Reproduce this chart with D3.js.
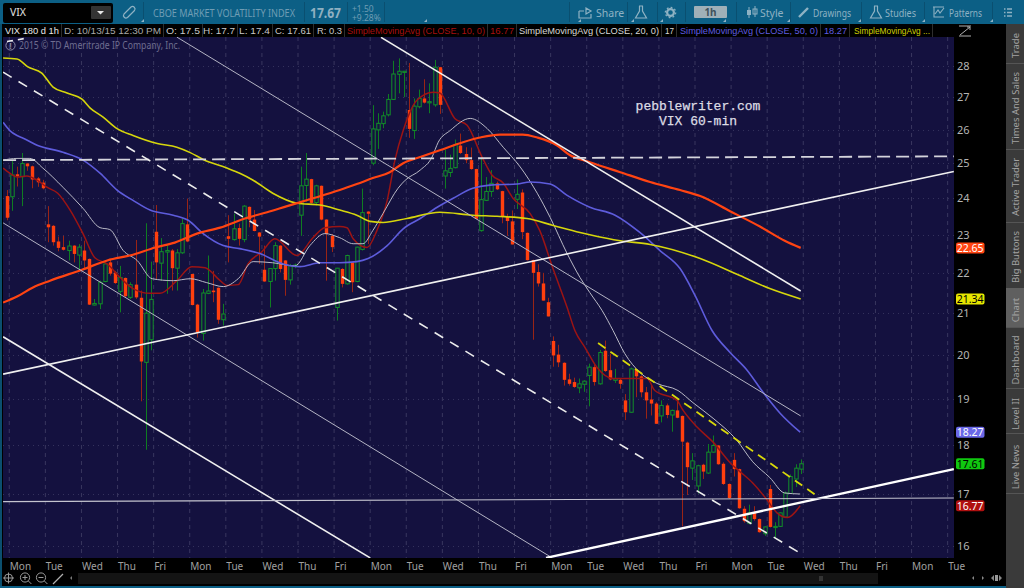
<!DOCTYPE html>
<html><head><meta charset="utf-8">
<style>
html,body{margin:0;padding:0;background:#000;overflow:hidden}
svg{display:block}
text{font-family:"Noto Sans",sans-serif}
</style>
<script src="https://cdn.jsdelivr.net/npm/d3@7/dist/d3.min.js"></script>
</head><body><svg id="c" width="1024" height="588"></svg>
<script>
// Hourly VIX bars: open, high, low, close
const candles = [
[24.06,24.23,23.39,23.46],[24.04,25.09,23.65,24.66],[24.68,24.9,24.33,24.62],[24.61,25.3,23.78,24.99],[24.99,25.0,24.78,24.91],
[24.91,24.93,24.28,24.53],[24.56,24.6,24.32,24.45],[24.44,24.52,24.25,24.28],[23.28,23.78,22.8,23.2],[23.24,23.26,22.71,22.8],
[22.82,22.95,22.56,22.65],[22.67,22.97,22.58,22.6],[22.58,22.84,22.32,22.7],[22.71,22.72,22.27,22.49],[22.46,22.75,22.05,22.67],
[22.58,22.84,22.1,22.32],[22.36,22.37,21.19,21.2],[21.19,21.34,21.18,21.23],[21.22,21.8,21.09,21.76],[21.78,22.27,21.76,22.23],
[22.27,22.36,21.93,21.98],[22.01,22.05,21.72,21.74],[21.53,22.18,21.01,21.88],[21.87,21.88,21.38,21.41],[21.38,21.76,21.34,21.7],
[21.7,22.86,21.34,21.38],[21.37,21.55,18.94,19.84],[19.82,23.31,17.9,20.99],[20.35,22.29,20.1,21.33],[23.08,23.81,21.84,22.27],
[22.25,22.91,21.8,22.55],[22.54,22.71,21.47,22.58],[22.58,22.62,21.55,22.12],[22.12,22.62,21.55,22.52],[22.52,23.44,22.49,23.3],
[23.28,23.99,22.8,22.82],[21.97,21.98,21.18,21.19],[21.2,21.22,20.4,20.52],[20.5,21.59,20.33,21.49],[21.48,22.45,21.46,21.54],
[21.55,22.05,21.26,21.51],[21.62,21.63,20.73,20.83],[20.83,21.22,20.69,20.97],[22.96,23.53,22.27,22.89],[22.87,23.57,22.84,23.16],
[23.18,23.3,22.71,22.89],[22.87,23.81,22.8,23.78],[23.76,23.77,23.2,23.41],[23.41,23.67,23.09,23.1],[23.06,23.07,22.23,22.95],
[22.08,22.71,21.77,21.78],[21.78,22.12,21.13,22.11],[22.11,22.8,21.8,22.71],[22.71,22.72,22.01,22.1],[22.32,22.33,21.42,21.82],
[21.82,22.23,21.7,22.18],[22.16,22.24,22.12,22.2],[23.53,24.9,22.97,24.35],[24.36,25.3,23.9,24.54],[24.54,24.55,23.85,23.87],
[23.88,24.38,23.8,24.35],[24.35,24.36,23.39,23.41],[23.41,23.42,21.8,23.02],[22.97,23.02,22.54,22.67],[21.13,22.13,20.81,22.12],
[22.1,22.12,21.63,21.72],[21.72,22.47,21.7,22.45],[22.27,22.28,21.51,21.76],[21.78,22.68,21.76,22.67],[22.61,24.27,22.58,23.6],
[23.63,23.64,22.75,23.57],[25.0,26.75,24.94,26.02],[25.99,26.5,25.42,26.19],[26.18,26.55,26.04,26.42],[26.45,27.1,26.4,26.93],
[26.93,28.17,26.91,27.74],[27.73,28.25,27.12,27.83],[27.81,27.84,27.0,27.83],[26.6,28.1,25.75,26.02],[25.97,26.96,25.72,26.72],
[26.7,27.24,26.65,26.96],[26.96,27.57,26.8,26.83],[26.83,27.44,26.5,26.86],[26.76,28.2,26.7,27.96],[27.96,27.97,26.48,26.76],
[24.63,25.4,24.27,24.78],[24.73,25.25,24.6,24.85],[24.87,25.7,24.85,25.55],[25.52,25.88,25.27,25.3],[25.27,25.47,25.0,25.09],
[25.09,25.46,24.81,24.83],[24.83,24.84,23.42,23.43],[23.11,25.18,23.08,23.96],[23.94,24.6,23.92,24.19],[24.19,24.8,24.04,24.42],
[24.42,24.47,24.23,24.25],[24.2,24.21,23.31,23.48],[23.48,23.57,22.97,23.37],[23.36,23.66,22.74,22.74],[23.97,24.53,23.7,24.11],
[24.16,24.25,22.88,23.07],[23.05,23.06,22.32,22.33],[22.33,22.34,20.35,22.0],[22.02,22.22,21.65,21.73],[21.73,22.0,21.3,21.3],
[21.26,21.37,20.91,20.91],[20.32,20.43,19.72,19.98],[20.0,20.23,19.71,19.82],[19.81,19.82,19.29,19.42],[19.43,19.56,19.29,19.33],
[19.37,19.47,19.24,19.26],[19.24,19.45,19.12,19.33],[19.32,19.41,19.15,19.39],[19.52,19.79,18.83,19.71],[19.71,19.79,19.29,19.37],
[19.33,20.11,19.31,20.05],[20.09,20.33,19.6,19.62],[19.64,20.02,19.41,19.43],[19.41,19.67,19.35,19.45],[19.42,19.45,19.22,19.33],
[18.96,19.1,18.53,18.7],[18.7,19.7,18.69,19.67],[19.65,19.66,19.03,19.5],[19.5,19.52,19.03,19.14],[19.14,19.26,18.56,18.96],
[18.98,19.33,18.63,18.89],[18.89,18.92,18.45,18.45],[18.62,18.96,18.48,18.85],[18.85,18.89,18.57,18.64],[18.64,18.76,18.28,18.74],
[18.74,19.0,18.57,18.58],[18.62,18.63,16.37,18.07],[18.05,18.07,16.98,17.54],[17.52,17.83,17.28,17.67],[17.16,17.59,17.01,17.57],
[17.59,17.61,17.3,17.45],[17.42,18.02,17.4,17.85],[17.85,18.2,17.84,17.99],[17.99,18.0,17.59,17.6],[17.61,17.64,17.18,17.2],
[17.2,17.21,16.9,16.92],[17.69,17.83,17.35,17.5],[17.5,17.51,16.71,16.72],[16.71,16.76,16.44,16.47],[16.43,16.79,16.41,16.63],
[16.64,16.76,16.48,16.51],[16.51,16.52,16.25,16.26],[16.23,16.37,16.19,16.36],[17.1,17.18,16.35,16.36],[16.36,16.45,16.15,16.37],
[16.37,16.64,16.36,16.63],[16.55,17.05,16.53,17.02],[17.01,17.39,17.0,17.35],[17.3,17.6,17.14,17.52],[17.5,17.7,17.4,17.61]
];

// Moving averages, as [bar, value] vertices
const sma10 = [[-0.7,24.86],[0.6,24.71],[2,24.6],[3.9,24.63],[5.9,24.51],[7.8,24.31],[9.9,24.14],[12.3,23.67],[14.8,23.03],[17.1,22.39],[19.5,22.23],[22,21.88],[24.5,21.6],[27.8,21.48],[29.7,21.48],[33,21.8],[35.9,22.16],[38.5,22.13],[41.4,21.8],[42.7,21.68],[44.9,21.7],[46.8,22.23],[49.5,22.55],[52,22.89],[56.3,22.45],[59.4,22.92],[61.7,23.19],[64.6,23.22],[66,23.19],[67.2,22.89],[69.9,22.66],[71.8,23.11],[73.8,23.94],[75.3,25.09],[76.9,25.97],[79.6,26.91],[82.7,27.16],[84,27.13],[86.9,26.34],[89.3,26.13],[92.2,25.18],[94.1,24.66],[96.3,24.43],[98.2,24],[101.5,23.58],[103.4,23.11],[105.9,22.13],[108.7,21.13],[110.2,20.57],[112.2,20.16],[114.5,19.7],[117.6,19.45],[120.3,19.45],[124.2,19.45],[125.7,19.18],[130,18.96],[131.2,18.74],[133.9,18.38],[137,18.06],[140.7,17.59],[142.2,17.45],[144.7,17.22],[147.5,16.88],[149.4,16.63],[151.4,16.54],[153.9,16.77]];
const sma20 = [[-0.7,25.09],[2,25.14],[4.5,25.14],[7,24.86],[10.9,24.31],[14.8,23.72],[18.1,23.19],[20,23.14],[22.6,22.58],[25.3,22.32],[28.2,21.85],[32.3,21.8],[35.6,21.85],[38.8,21.75],[42,21.65],[44.9,21.85],[47.8,22.29],[51.6,22.26],[55.9,22.18],[58.8,22.71],[61.7,23.03],[64.6,22.92],[67.2,22.76],[69.1,22.76],[71,23.11],[73,23.58],[75.9,24.28],[77.3,24.51],[80.2,24.8],[82.5,25.18],[83.7,25.62],[86,25.97],[89.9,26.34],[93.2,26.03],[96.3,25.47],[99.6,24.89],[102.9,24.14],[105.4,23.47],[108.7,22.5],[111.2,21.88],[113.1,21.5],[115.5,21.05],[117.6,20.57],[119.9,20.02],[122.8,19.59],[126.1,19.34],[130.2,19.18],[133.1,18.91],[137,18.57],[141.6,18.1],[144.7,17.65],[148,17.33],[150.9,17.02],[153.9,17]];
const sma50 = [[-0.7,26.22],[0.6,25.97],[2,25.82],[3.2,25.74],[5.9,25.53],[10.9,25.32],[14.8,25.09],[18.1,24.71],[21.4,24.23],[24.5,23.94],[27.8,23.67],[32.3,23.53],[35.2,23.39],[38.1,23.03],[42,22.71],[45.2,22.63],[49.1,22.5],[53.6,22.23],[56.9,22.16],[60.8,22.26],[64.6,22.26],[67.9,22.29],[70.1,22.37],[73.8,22.71],[76.9,23.16],[80.2,23.44],[83.5,23.75],[86.6,24],[90.4,24.28],[93.7,24.37],[99,24.4],[101.5,24.46],[105.4,24.4],[108.7,24.08],[113.1,23.75],[118,23.53],[122.8,23.06],[126.7,22.58],[130.6,22.11],[133.5,21.43],[136.8,20.57],[140.3,20.05],[143.6,19.64],[146.7,19.14],[150,18.68],[153.9,18.27]];
const sma100 = [[-0.7,21.25],[2,21.4],[5.1,21.63],[8.4,21.8],[14.6,22.08],[19.5,22.32],[24.5,22.47],[28.8,22.66],[32.6,22.79],[36.9,23.03],[41.4,23.19],[46.2,23.44],[50.5,23.61],[54.4,23.78],[58.8,23.97],[64.6,24.23],[67.9,24.4],[71,24.57],[74.3,24.74],[76.9,25],[80.2,25.18],[84,25.38],[88.5,25.62],[91.8,25.76],[95.7,25.85],[100.1,25.85],[102.9,25.76],[106.7,25.53],[109.2,25.24],[113.1,25.03],[119,24.74],[124.8,24.46],[130.6,24.23],[134.5,24.06],[140.3,23.64],[146.1,23.22],[150.9,22.84],[154,22.65]];
const sma200 = [[-0.7,28.26],[2,28.23],[4.1,27.97],[6.8,27.77],[9,27.32],[11.7,27.13],[14.6,26.94],[16.2,26.66],[18.7,26.38],[21.4,26.03],[24.5,25.82],[29.2,25.58],[33,25.47],[35.6,25.31],[38.1,25.11],[42.7,24.86],[45.2,24.71],[47.8,24.51],[51.6,24.14],[56.3,23.86],[60.8,23.81],[64.6,23.67],[67.9,23.53],[70.5,23.36],[73,23.33],[77.6,23.44],[84,23.61],[90.4,23.53],[95.1,23.5],[100.9,23.44],[106,23.25],[111.2,23.06],[113.1,23],[119,22.84],[124.8,22.74],[134.5,22.37],[142.2,21.93],[148,21.6],[154,21.34]];

// Hand-drawn channel and trend lines: [bar, price] at each end
const thinLines = [[[33,28.96],[154,18.62]],[[-0.7,23.32],[105.8,15.78]]];
const thickLines = [[[72.6,28.95],[154,21.54]],[[-0.7,20.42],[70.5,15.78]],[[-0.7,19.55],[183.7,24.76]]];
const heavyLines = [[[104.6,15.78],[183.7,17.5]]];
const levelLine = [[-0.7,16.85],[183.7,16.92]];
const dashedLevel = [[-0.7,25.09],[183.7,25.2]];
const dashedChannel = [[-0.7,27.8],[154.2,15.85]];
const dashedTop = [[0.06,28.81],[3.4,28.91]];
const wedgeLine = [[114.7,20.27],[157.2,16.96]];

const priceTicks = [16,17,18,19,20,21,22,23,24,25,26,27,28];
const dayLabels = ["Mon","Tue","Wed","Thu","Fri","Mon","Tue","Wed","Thu","Fri","Mon","Tue","Wed","Thu","Fri","Mon","Tue","Wed","Thu","Fri","Mon","Tue","Wed","Thu","Fri","Mon","Tue"];
const barsPerDay = 7;
const priceBadges = [
  {v:22.65,bg:"#ff4512",fg:"#fff"},{v:21.34,bg:"#e6e600",fg:"#000"},{v:18.27,bg:"#6a68e8",fg:"#fff"},
  {v:17.61,bg:"#10c810",fg:"#000"},{v:16.77,bg:"#b01010",fg:"#fff"}];
const readouts = [
  ["VIX 180 d 1h",5,54,"#e8e8e8"],["D: 10/13/15 12:30 PM",64,97,"#a8a8a8"],["O: 17.5",166,34,"#c8c8c8"],["H: 17.7",203,32,"#c8c8c8"],
  ["L: 17.4",239,31,"#c8c8c8"],["C: 17.61",275,36,"#c8c8c8"],["R: 0.3",317,25,"#c8c8c8"],
  ["SimpleMovingAvg (CLOSE, 10, 0)",347,138,"#a80f0f"],["16.77",490,24,"#a80f0f"],
  ["SimpleMovingAvg (CLOSE, 20, 0)",519,140,"#d8d8d8"],["17",665,9,"#d8d8d8"],
  ["SimpleMovingAvg (CLOSE, 50, 0)",680,138,"#5f5ce0"],["18.27",824,23,"#5f5ce0"],
  ["SimpleMovingAvg ...",854,76,"#d0d000"]];
const tabs = [["Trade",24,63,45.5],["Times And Sales",63,149,108],["Active Trader",149,222,187],["Big Buttons",222,288,257],["Chart",288,327,310],["Dashboard",327,388,360],["Level II",388,433,414],["Live News",433,493,467]];

const svg = d3.select("#c");
const plot = {l:3,t:37,r:954,b:558};
const x = d3.scaleLinear().domain([0,154]).range([6.7,800.7]);
const y = d3.scaleLog().domain([16,28]).range([546,66]);
const line = d3.line().x(d=>x(d[0])).y(d=>y(d[1]));
const smooth = d3.line().x(d=>x(d[0])).y(d=>y(d[1])).curve(d3.curveMonotoneX);

// Window chrome behind the chart
svg.append("rect").attr("width",1024).attr("height",588).attr("fill","#000");
svg.append("rect").attr("x",0).attr("y",24).attr("width",2).attr("height",564).attr("fill","#0b4f6e");
svg.append("rect").attr("width",1024).attr("height",24).attr("fill","#0c5f85");
svg.append("rect").attr("y",586).attr("width",1024).attr("height",2).attr("fill","#0c5f85");
svg.append("rect").attr("x",plot.l).attr("y",plot.t).attr("width",plot.r-plot.l).attr("height",plot.b-plot.t).attr("fill","#14113f");
svg.append("defs").append("clipPath").attr("id","pc").append("rect").attr("x",plot.l).attr("y",plot.t).attr("width",plot.r-plot.l).attr("height",plot.b-plot.t);

// Grid
const dayIdx = dayLabels.map((d,i)=>i*barsPerDay+0.5);
const gridG = svg.append("g").attr("clip-path","url(#pc)");
gridG.selectAll(".v").data(dayIdx).enter().append("line")
  .attr("x1",d=>x(d)).attr("x2",d=>x(d)).attr("y1",plot.t).attr("y2",plot.b)
  .attr("stroke","#39375f").attr("stroke-width",1).attr("stroke-dasharray","4 4");
gridG.selectAll(".h").data(priceTicks).enter().append("line")
  .attr("x1",plot.l).attr("x2",plot.r).attr("y1",d=>Math.round(y(d))+.5).attr("y2",d=>Math.round(y(d))+.5)
  .attr("stroke","#34325c").attr("stroke-width",1).attr("stroke-dasharray","1 4");

const chart = svg.append("g").attr("clip-path","url(#pc)");

// Copyright note
chart.append("circle").attr("cx",10.5).attr("cy",45.5).attr("r",4.6).attr("fill","none").attr("stroke","#8c8ba6").attr("stroke-width",1);
chart.append("text").attr("x",10.5).attr("y",48.8).attr("text-anchor","middle").attr("font-size",8.5).attr("font-weight","bold").attr("fill","#8c8ba6").text("!");
chart.append("text").attr("x",19).attr("y",49).attr("font-size",10).attr("fill","#6f6e90").attr("textLength",161).attr("lengthAdjust","spacingAndGlyphs").text("2015 © TD Ameritrade IP Company, Inc.");

// Candles: filled when down, hollow when up
const up = d=>d[3]>=d[0];
const cg = chart.append("g");
const bw = 3.4;
const cx = i=>Math.round(x(i))+.5;
cg.selectAll(".w").data(candles).enter().append("line")
  .attr("x1",(d,i)=>cx(i)).attr("x2",(d,i)=>cx(i))
  .attr("y1",d=>y(d[1])).attr("y2",d=>y(d[2]))
  .attr("stroke",d=>up(d)?"#0f7d22":"#9a2415").attr("stroke-width",1);
cg.selectAll(".b").data(candles).enter().append("rect")
  .attr("x",(d,i)=>cx(i)-bw/2).attr("width",bw)
  .attr("y",d=>y(Math.max(d[0],d[3])))
  .attr("height",d=>Math.max(1.2,Math.abs(y(d[0])-y(d[3]))))
  .attr("fill",d=>up(d)?"#14113f":"#ff3f0e")
  .attr("stroke",d=>up(d)?"#12912a":"none")
  .attr("stroke-width",d=>up(d)?1:0);

// Averages
const addSma=(data,color,w)=>chart.append("path").attr("d",smooth(data)).attr("fill","none").attr("stroke",color).attr("stroke-width",w).attr("stroke-linejoin","round");
addSma(sma10,"#9c1414",1.5);
addSma(sma20,"#b9b9c6",1);
addSma(sma50,"#5e5cdc",1.6);
addSma(sma200,"#d6d60c",1.6);
addSma(sma100,"#ff4412",2.2);

// Trend lines
const addLine=(data,color,w,dash)=>{const p=chart.append("path").attr("d",line(data)).attr("fill","none").attr("stroke",color).attr("stroke-width",w);if(dash)p.attr("stroke-dasharray",dash);};
thinLines.forEach(l=>addLine(l,"#b4b4c4",1));
thickLines.forEach(l=>addLine(l,"#f0f0f0",1.6));
heavyLines.forEach(l=>addLine(l,"#ffffff",2.4));
addLine(levelLine,"#c4c4cf",1.1);
addLine(dashedLevel,"#d4d4dc",1.8,"13 6");
addLine(dashedChannel,"#ececec",1.6,"10 8");
addLine(dashedTop,"#ececec",1.6,"6 5");
addLine(wedgeLine,"#d8d80a",1.8,"9 6");

// Annotation
[["pebblewriter.com",110],["VIX 60-min",125]].forEach(a=>chart.append("text")
  .attr("x",698).attr("y",a[1]).attr("text-anchor","middle").attr("font-size",13)
  .style("font-family","'Liberation Mono',monospace").attr("stroke","#dcdce4").attr("stroke-width",0.25).attr("fill","#dcdce4").text(a[0]));

// Axes
const yAxis = d3.axisRight(y).tickValues(priceTicks).tickFormat(d3.format("d")).tickSize(0).tickPadding(3);
const yg = svg.append("g").attr("transform",`translate(${plot.r},0)`).call(yAxis);
yg.select(".domain").remove();
yg.selectAll("text").attr("fill","#b4b4b4").attr("font-size",11).style("font-family",'"Noto Sans",sans-serif');
const dayFmt = new Map(dayIdx.map((d,i)=>[d,dayLabels[i]]));
const xAxis = d3.axisBottom(x).tickValues(dayIdx).tickFormat(d=>dayFmt.get(d)).tickSize(0).tickPadding(3);
const xg = svg.append("g").attr("transform",`translate(0,${plot.b})`).call(xAxis);
xg.select(".domain").remove();
xg.selectAll("text").attr("fill","#a0a0a0").attr("font-size",10).attr("text-anchor","start").attr("dy","0.85em").style("font-family",'"Noto Sans",sans-serif');

// Last-value badges
const bg = svg.append("g").selectAll("g").data(priceBadges).enter().append("g").attr("transform",d=>`translate(956,${y(d.v)})`);
bg.append("rect").attr("y",-5.5).attr("width",28.5).attr("height",11).attr("rx",2).attr("fill",d=>d.bg);
bg.append("text").attr("x",14.2).attr("y",4).attr("text-anchor","middle").attr("font-size",10.5).attr("fill",d=>d.fg).text(d=>d.v.toFixed(2));

// Study readout strip
svg.append("rect").attr("x",3).attr("y",24).attr("width",951).attr("height",13).attr("fill","#000");
const rg = svg.append("g");
readouts.forEach(r=>{
  rg.append("text").attr("x",r[1]).attr("y",34).attr("font-size",9.1).style("font-family",'"Liberation Sans",sans-serif').attr("fill",r[3]).attr("textLength",r[2]).attr("lengthAdjust","spacingAndGlyphs").text(r[0]);
  rg.append("line").attr("x1",r[1]+r[2]+2.5).attr("x2",r[1]+r[2]+2.5).attr("y1",24).attr("y2",37).attr("stroke","#2e2e2e");
});
// scale-fit button at the top of the price column
svg.append("path").attr("d","M959 26H971M959 36H971M960 35L970 27M970 27h-3M970 27v3").attr("fill","none").attr("stroke","#b0b0b0");

// Header bar
const hdr = svg.append("g");
hdr.append("rect").attr("x",3).attr("y",3).attr("width",110).attr("height",20).attr("rx",2).attr("fill","#000");
hdr.append("rect").attr("x",91).attr("y",6).attr("width",20).attr("height",13).attr("rx",1).attr("fill","#333");
hdr.append("path").attr("d","M97 11h7l-3.5 3.5z").attr("fill","#e8e8e8");
hdr.append("text").attr("x",10).attr("y",16).attr("font-size",10.5).attr("fill","#e0e0e0").text("VIX");
hdr.selectAll(".sep").data([143,304,347,384,569,627,657,685,736,790,861,924,992]).enter().append("line")
  .attr("x1",d=>d+.5).attr("x2",d=>d+.5).attr("y1",2).attr("y2",22).attr("stroke","#0a4f70");
hdr.append("text").attr("x",153).attr("y",16.5).attr("font-size",10.5).attr("fill","#6f9db4").attr("textLength",142).attr("lengthAdjust","spacingAndGlyphs").text("CBOE MARKET VOLATILITY INDEX");
hdr.append("text").attr("x",310).attr("y",17.5).attr("font-size",13.5).attr("font-weight","bold").attr("fill","#8fb0c1").attr("textLength",31).attr("lengthAdjust","spacingAndGlyphs").text("17.67");
hdr.append("text").attr("x",352).attr("y",11.5).attr("font-size",8.5).attr("fill","#6f9db4").text("+1.50");
hdr.append("text").attr("x",352).attr("y",21).attr("font-size",8.5).attr("fill","#6f9db4").text("+9.28%");
const hc="#8fb2c3";
hdr.append("path").attr("d","M125 16l7-7a2.5 2.5 0 0 1 3.5 3.5l-7 7a2.5 2.5 0 0 1-3.5-3.5z").attr("fill","none").attr("stroke",hc).attr("stroke-width",1.2).attr("transform","translate(-1,-2)");
// Share
hdr.append("path").attr("d","M579 11h5M579 11v7h12v-4M586 8l5 3-5 3z").attr("fill","none").attr("stroke",hc).attr("stroke-width",1.2);
hdr.append("text").attr("x",596).attr("y",16.5).attr("font-size",10.5).attr("fill",hc).text("Share");
// Flask icons
const flask=xx=>hdr.append("path").attr("d",`M${xx-2} 6h4M${xx-1.5} 6v5l-4 7h11l-4-7V6`).attr("fill","none").attr("stroke",hc).attr("stroke-width",1.2);
flask(641);flask(876);
// Gear
hdr.append("circle").attr("cx",670.5).attr("cy",12.5).attr("r",3.4).attr("fill","none").attr("stroke",hc).attr("stroke-width",2.2);
hdr.append("circle").attr("cx",670.5).attr("cy",12.5).attr("r",5.2).attr("fill","none").attr("stroke",hc).attr("stroke-width",1.2).attr("stroke-dasharray","1.8 2.2");
// 1h selector
hdr.append("rect").attr("x",694).attr("y",6).attr("width",33).attr("height",12).attr("rx",1).attr("fill","#9fb0b8");
hdr.append("text").attr("x",710.5).attr("y",16).attr("text-anchor","middle").attr("font-size",10).attr("font-weight","bold").attr("fill","#40525c").text("1h");
// Style
hdr.append("path").attr("d","M749 7v11M755 6v11").attr("stroke",hc);
hdr.append("rect").attr("x",747).attr("y",10).attr("width",4).attr("height",5).attr("fill",hc);
hdr.append("rect").attr("x",753).attr("y",9).attr("width",4).attr("height",5).attr("fill","none").attr("stroke",hc);
hdr.append("text").attr("x",760).attr("y",16.5).attr("font-size",10.5).attr("fill",hc).text("Style");
// Drawings
hdr.append("path").attr("d","M799 17l9-9").attr("stroke",hc).attr("stroke-width",2.4);
hdr.append("text").attr("x",813).attr("y",16.5).attr("font-size",10.5).attr("fill",hc).attr("textLength",38).attr("lengthAdjust","spacingAndGlyphs").text("Drawings");
hdr.append("text").attr("x",885).attr("y",16.5).attr("font-size",10.5).attr("fill",hc).attr("textLength",31).attr("lengthAdjust","spacingAndGlyphs").text("Studies");
// Patterns
hdr.append("path").attr("d","M933 7h11M934 7v10h10M935 14l3-4 2 3 4-5").attr("fill","none").attr("stroke",hc).attr("stroke-width",1.1);
hdr.append("text").attr("x",949).attr("y",16.5).attr("font-size",10.5).attr("fill",hc).attr("textLength",33).attr("lengthAdjust","spacingAndGlyphs").text("Patterns");
// List
hdr.selectAll(".li").data([9,12.5,16]).enter().append("path").attr("d",d=>`M1004 ${d}h1.5M1007 ${d}h5`).attr("stroke",hc).attr("stroke-width",1.3);
hdr.selectAll(".cor").data([141,424,578,631,660,723,787,858,922,990]).enter().append("path").attr("d",d=>`M${d} 22h3v-3z`).attr("fill",hc);

// Side tabs
const tb = svg.append("g");
tb.append("rect").attr("x",1006).attr("y",24).attr("width",18).attr("height",564).attr("fill","#3a3a3a");
tabs.forEach(t=>{
  if(t[0]==="Chart") tb.append("rect").attr("x",1006).attr("y",t[1]).attr("width",18).attr("height",t[2]-t[1]).attr("fill","#5f5f5f");
  tb.append("line").attr("x1",1006).attr("x2",1024).attr("y1",t[2]+.5).attr("y2",t[2]+.5).attr("stroke","#555");
  tb.append("text").attr("transform",`translate(1018.5,${t[3]}) rotate(-90)`).attr("text-anchor","middle").attr("font-size",9.5).attr("fill","#a2a2a2").text(t[0]);
});

// Bottom toolbar and scroller
const bt = svg.append("g");
bt.append("circle").attr("cx",8.5).attr("cy",578).attr("r",4).attr("fill","none").attr("stroke",'#9a9a9a');
bt.append("path").attr("d","M3 578h11M8.5 572.5v11").attr("stroke","#9a9a9a");
[[25,"M22.5 577.5h5M25 575v5"],[41,"M38.5 577.5h5"]].forEach(z=>{
  bt.append("circle").attr("cx",z[0]).attr("cy",577.5).attr("r",4.6).attr("fill","none").attr("stroke","#9a9a9a");
  bt.append("path").attr("d",z[1]+`M${z[0]+3.4} 581l3 3`).attr("stroke","#9a9a9a").attr("fill","none");
});
bt.append("path").attr("d","M53 584l10-10").attr("stroke","#b0b0b0").attr("stroke-width",1.2);
bt.append("path").attr("d","M72 576v4l-2-2z").attr("fill","#777");
bt.append("rect").attr("x",78).attr("y",573).attr("width",800).attr("height",11).attr("fill","#141414");
bt.append("path").attr("d","M820 576v5M822 576v5").attr("stroke","#555");
bt.append("path").attr("d","M974 576v4l-2-2zM982 576v4l2-2zM994 575v6l-3-3zM999 575v6l3-3z").attr("fill","#888");
bt.append("rect").attr("x",995).attr("y",575).attr("width",3).attr("height",6).attr("fill","#999");
</script></body></html>
